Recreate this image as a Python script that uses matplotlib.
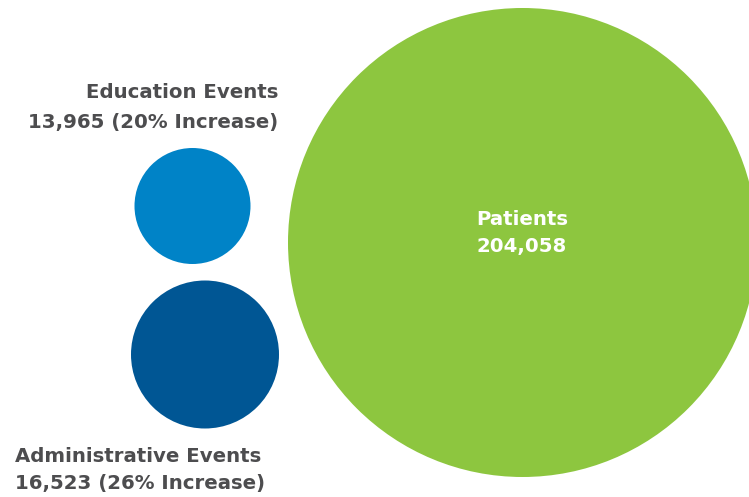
import matplotlib
matplotlib.use("Agg")
import matplotlib.pyplot as plt
from matplotlib.patches import Circle

# Data
categories = ["Education Events", "Administrative Events", "Patients"]
values = [13965, 16523, 204058]
increases = [20, 26, None]

# Layout (pixel coordinates, y down)
centers = [(192.5, 206.0), (205.0, 354.5), (522.5, 242.5)]
radii = [58.0, 74.0, 234.5]
colors = ["#0083C7", "#005694", "#8DC63F"]

W, H = 749, 497
fig = plt.figure(figsize=(W / 100, H / 100), dpi=100)
ax = fig.add_axes([0, 0, 1, 1])
ax.set_xlim(0, W)
ax.set_ylim(H, 0)
ax.set_aspect("equal")
ax.axis("off")

for (cx, cy), r, c in zip(centers, radii, colors):
    ax.add_patch(Circle((cx, cy), r, facecolor=c, edgecolor="none"))

font = dict(family=["DejaVu Sans"], fontweight="bold")
gray = "#4D4D4F"
fs = 14.2

# Education label: right aligned above circle
ax.text(278, 98, categories[0], ha="right", va="baseline", color=gray, fontsize=fs, **font)
ax.text(278, 128, f"{values[0]:,} ({increases[0]}% Increase)", ha="right", va="baseline",
        color=gray, fontsize=fs, **font)

# Administrative label: left aligned below circle
ax.text(15, 462, categories[1], ha="left", va="baseline", color=gray, fontsize=fs, **font)
ax.text(15, 489, f"{values[1]:,} ({increases[1]}% Increase)", ha="left", va="baseline",
        color=gray, fontsize=fs, **font)

# Patients label inside
ax.text(522, 225, categories[2], ha="center", va="baseline", color="white", fontsize=fs, **font)
ax.text(522, 252, f"{values[2]:,}", ha="center", va="baseline", color="white", fontsize=fs, **font)

fig.savefig("out.png", dpi=100, facecolor="white")
